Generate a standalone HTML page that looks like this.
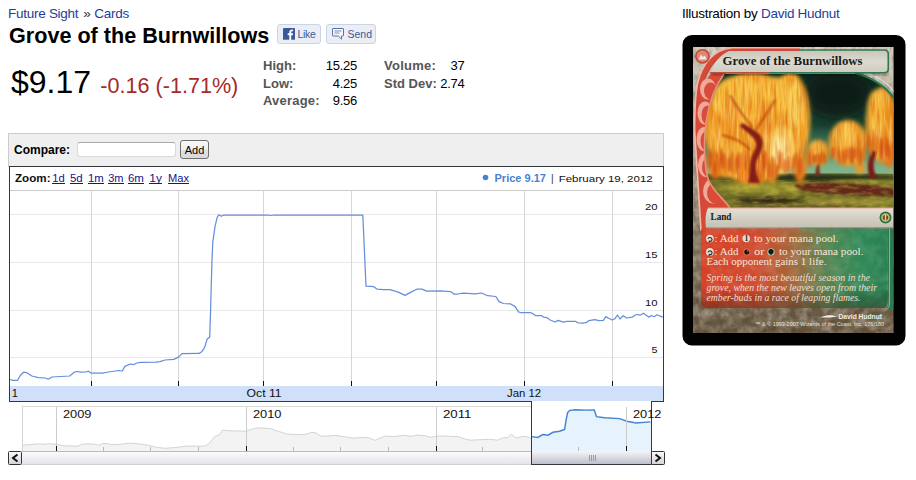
<!DOCTYPE html>
<html>
<head>
<meta charset="utf-8">
<title>Grove of the Burnwillows</title>
<style>
html,body{margin:0;padding:0;background:#fff;}
body{width:916px;height:480px;overflow:hidden;position:relative;font-family:"Liberation Sans",sans-serif;color:#000;font-size:12px;line-height:16px;}
.abs{position:absolute;white-space:nowrap;margin:0;padding:0;}
#crumb{left:8px;top:6px;font-size:13.5px;letter-spacing:-0.27px;line-height:16px;color:#243c98;}
#crumb span{color:#333;margin:0 0.3px 0 1.4px;}
#title{left:9px;top:23px;font-size:21.6px;line-height:26px;font-weight:bold;color:#000;}
#price{left:11px;top:64px;font-size:32px;line-height:36px;color:#000;}
#chg{left:100.3px;top:74px;font-size:21.6px;line-height:24px;color:#a52a2a;}
.fb{top:24px;height:18px;border:1px solid #cad4e7;background:#eceef5;border-radius:3px;box-sizing:content-box;}
.fb span{position:absolute;top:3px;font-size:10.5px;line-height:13px;color:#3b5998;}
.sl{font-size:13px;line-height:18px;font-weight:bold;color:#555;}
.sv{font-size:13px;line-height:18px;color:#000;text-align:right;letter-spacing:-0.25px;}
#illus{left:682px;top:6px;font-size:13.5px;letter-spacing:-0.27px;line-height:16px;color:#000;}
#illus span{color:#243c98;}
#cmp{left:8px;top:133px;width:654px;height:32px;border:1px solid #ccc;background:#efefef;box-sizing:content-box;}
#cmpl{left:14px;top:143px;font-size:12px;line-height:15px;font-weight:bold;}
#cmpi{left:77px;top:142px;width:97px;height:13px;border:1px solid #dadada;border-top-color:#a9a9a9;background:#fff;border-radius:3px;box-sizing:content-box;}
#cmpb{left:180px;top:140px;width:27px;height:17px;border:1px solid #707070;border-radius:3px;background:linear-gradient(#f8f8f8,#efefef 50%,#e2e2e2 51%,#d9d9d9);font-size:11px;line-height:19px;text-align:center;box-sizing:content-box;}


</style>
</head>
<body>
<div class="abs" id="crumb">Future Sight <span>»</span> Cards</div>
<div class="abs" id="title">Grove of the Burnwillows</div>
<div class="abs fb" style="left:277px;width:42px;">
<svg class="abs" style="left:5px;top:3px" width="12" height="12" viewBox="0 0 12 12"><rect width="12" height="12" rx="1" fill="#3b5998"/><rect y="11" width="12" height="1" fill="#6d84b4"/><path d="M8.2 12V7.2h1.6l.3-1.9H8.2V4.2c0-.6.2-.9.9-.9h1V1.6C9.9 1.6 9.400 1.500 8.800 1.500 7.400 1.500 6.300 2.400 6.300 4v1.300H4.700v1.900h1.600V12z" fill="#fff"/></svg>
<span style="left:19.5px;letter-spacing:-0.3px;">Like</span></div>
<div class="abs fb" style="left:326px;width:48px;">
<svg class="abs" style="left:5px;top:3px" width="13" height="13" viewBox="0 0 13 13"><path d="M1 .5h10c.3 0 .5.200 .5.500v6.500c0 .3-.2.500-.5.500h-1.500v3.200l-3.200-3.200h-5.300c-.3 0-.5-.2-.5-.5v-6.500c0-.3.200-.5.500-.5z" fill="#f5f6fa" stroke="#5b74a8" stroke-width="1"/><path d="M2.500 3h7M2.500 5h5" stroke="#7f93bd" stroke-width="1"/></svg>
<span style="left:20.5px;">Send</span></div>
<div class="abs" id="price">$9.17</div>
<div class="abs" id="chg">-0.16 (-1.71%)</div>
<div class="abs sl" style="left:263px;top:57px;">High:</div>
<div class="abs sl" style="left:263px;top:75px;">Low:</div>
<div class="abs sl" style="left:263px;top:92px;letter-spacing:0.2px;">Average:</div>
<div class="abs sv" style="left:300px;width:57px;top:57px;">15.25</div>
<div class="abs sv" style="left:300px;width:57px;top:75px;">4.25</div>
<div class="abs sv" style="left:300px;width:57px;top:92px;">9.56</div>
<div class="abs sl" style="left:384px;top:57px;letter-spacing:0.25px;">Volume:</div>
<div class="abs sl" style="left:384px;top:75px;">Std Dev:</div>
<div class="abs sv" style="left:420px;width:44.5px;top:57px;">37</div>
<div class="abs sv" style="left:420px;width:44.5px;top:75px;">2.74</div>
<div class="abs" id="illus">Illustration by <span>David Hudnut</span></div>

<div class="abs" id="cmp"></div>
<div class="abs" id="cmpl">Compare:</div>
<div class="abs" id="cmpi"></div>
<div class="abs" id="cmpb">Add</div>
<!--CHART_START-->
<svg class="abs" id="chart" style="left:0;top:160px" width="670" height="312" viewBox="0 160 670 312" font-family="Liberation Sans, sans-serif">
<defs><linearGradient id="gtrk" x1="0" y1="0" x2="0" y2="1"><stop offset="0" stop-color="#fdfdfd"/><stop offset="1" stop-color="#e4e4ea"/></linearGradient>
<linearGradient id="gthumb" x1="0" y1="0" x2="0" y2="1"><stop offset="0" stop-color="#f5f5f8"/><stop offset="1" stop-color="#bfbfcb"/></linearGradient>
<linearGradient id="gbtn" x1="0" y1="0" x2="0" y2="1"><stop offset="0" stop-color="#fbfbfc"/><stop offset="1" stop-color="#d2d2da"/></linearGradient></defs>
<rect x="9" y="166" width="655" height="236" fill="#fff"/>
<g shape-rendering="crispEdges">
<rect x="10" y="190" width="653" height="1" fill="#ccc"/>
<rect x="10" y="214" width="653" height="1" fill="#e9e9ec"/>
<rect x="10" y="262" width="653" height="1" fill="#e9e9ec"/>
<rect x="10" y="310" width="653" height="1" fill="#e9e9ec"/>
<rect x="10" y="357" width="653" height="1" fill="#e9e9ec"/>
<rect x="91" y="191" width="1" height="195" fill="#d6d6d9"/>
<rect x="178" y="191" width="1" height="195" fill="#d6d6d9"/>
<rect x="263" y="191" width="1" height="195" fill="#d6d6d9"/>
<rect x="351" y="191" width="1" height="195" fill="#d6d6d9"/>
<rect x="436" y="191" width="1" height="195" fill="#d6d6d9"/>
<rect x="524" y="191" width="1" height="195" fill="#d6d6d9"/>
<rect x="612" y="191" width="1" height="195" fill="#d6d6d9"/>
<rect x="10" y="386" width="653" height="15" fill="#cfe0f8"/>
<rect x="91" y="381" width="1" height="5" fill="#111"/>
<rect x="178" y="381" width="1" height="5" fill="#111"/>
<rect x="263" y="381" width="1" height="5" fill="#111"/>
<rect x="351" y="381" width="1" height="5" fill="#111"/>
<rect x="436" y="381" width="1" height="5" fill="#111"/>
<rect x="524" y="381" width="1" height="5" fill="#111"/>
<rect x="612" y="381" width="1" height="5" fill="#111"/>
</g>
<polyline fill="none" stroke="#658edb" stroke-width="1.25" stroke-linejoin="round" points="10,379.5 13,380.3 17.5,380.3 20.5,375.2 23.6,372.2 26.8,372.7 31.9,376 38.2,377.7 45.7,378 48.2,379.2 52,377 60.8,376.5 69.6,376 74.6,372 77,371.5 80.9,372.2 85.9,372 88.4,371.2 91,373 94.7,373 102.2,373.2 108.5,372 118.6,370.5 122.3,371 124.8,366.4 128.6,364.7 131,364 133.6,364.7 136.6,363 141,362.4 156,362.2 160,361.7 165,360 173.8,359.4 178.9,356.9 181.9,353.6 199,353.4 202,351.4 204.5,347.6 207.2,339 209.7,337.2 210.6,309.4 211.9,262.5 212.8,242.2 215,226.6 217.2,217.4 218.75,214.8 221.25,216.3 223.75,215 268,215 271,215.5 274,215 362.8,215 366,286.2 373.9,286.7 377.1,289.2 383.4,289.7 390.1,289.7 398.3,292.1 405,295.4 411,292.1 416.7,289.2 422.1,289.2 426.7,291.1 440.3,290.8 450.6,291.6 453.8,294 457.9,294 463.3,293.2 475.5,293.8 481.5,293 487.7,295.7 495.8,296.5 499,301.6 503.4,303.5 510.2,303.8 515.2,306.6 518.4,311.8 520.5,312.5 530.1,312.5 532.7,313.6 535.3,315.5 541.4,315.5 543.5,317.1 546.7,317.6 550.2,320 555.1,322 558,320.4 563.3,322.1 566.8,321.3 575.5,321.3 578.1,323 582.5,323.2 586,322.7 589,320.6 594.7,319.7 599.1,320.6 603.4,320.4 605.7,316.6 608.7,318.3 612.2,320 614.8,318.8 617.4,315 620,319 623.2,315.7 626.7,318 632.3,317.1 635.4,315 637.5,314.5 640.1,315.2 643.6,313.2 646.2,315.2 648.9,317.1 651.5,315.5 654.1,316.7 657.2,314.8 660.2,316.2 662.8,317.2"/>
<g shape-rendering="crispEdges">
<rect x="22" y="406" width="509" height="1" fill="#dadada"/>
<rect x="22" y="406" width="1" height="45" fill="#d4d4d4"/>
</g>
<rect x="532" y="402" width="119" height="49" fill="#fff"/>
<polygon fill="#f3f3f3" points="22.9,445.2 31.8,444.4 39.7,443.8 45.5,444.4 49.5,443.6 56.4,444.4 65.2,445.9 78,446.1 81.9,444.2 87.8,443.8 95.7,444.4 98.6,445.3 102.5,443.6 108.4,443.6 110.4,444.6 120.2,444.4 128.1,443.2 134,443.4 143.8,444.6 150.7,445.7 157.5,447.5 165.4,448.3 175.2,447.5 187,446.1 204.7,446.1 208.7,444 214.6,436.7 219.5,434.7 222.4,430.2 231.3,430.8 246,431.2 254.8,428.3 259.8,427.9 270.6,428.6 278.4,431.4 287.3,434.1 297.1,434.7 305.9,434.3 311.8,432.4 315.8,432.8 320.7,436.1 327.6,436.1 334.4,435.3 345.2,436.9 353.1,438.1 361,437.5 368.8,437.7 374.7,440.4 378.7,438.7 384.6,436.1 393.4,436.5 405.2,435.3 411.1,436.3 417,435.1 424.8,435.7 430.7,437.3 436.6,436.1 446.5,436.1 458.3,436.7 464.1,438.7 470,440.2 477.9,439.8 489.7,439.3 497.5,440.2 503.4,437.7 507.4,437.7 511.3,434.3 516.2,438.1 523.1,436.3 528,436.9 531.5,438.7 531.5,451 23,451"/>
<polyline fill="none" stroke="#d4d4d4" stroke-width="1" points="22.9,445.2 31.8,444.4 39.7,443.8 45.5,444.4 49.5,443.6 56.4,444.4 65.2,445.9 78,446.1 81.9,444.2 87.8,443.8 95.7,444.4 98.6,445.3 102.5,443.6 108.4,443.6 110.4,444.6 120.2,444.4 128.1,443.2 134,443.4 143.8,444.6 150.7,445.7 157.5,447.5 165.4,448.3 175.2,447.5 187,446.1 204.7,446.1 208.7,444 214.6,436.7 219.5,434.7 222.4,430.2 231.3,430.8 246,431.2 254.8,428.3 259.8,427.9 270.6,428.6 278.4,431.4 287.3,434.1 297.1,434.7 305.9,434.3 311.8,432.4 315.8,432.8 320.7,436.1 327.6,436.1 334.4,435.3 345.2,436.9 353.1,438.1 361,437.5 368.8,437.7 374.7,440.4 378.7,438.7 384.6,436.1 393.4,436.5 405.2,435.3 411.1,436.3 417,435.1 424.8,435.7 430.7,437.3 436.6,436.1 446.5,436.1 458.3,436.7 464.1,438.7 470,440.2 477.9,439.8 489.7,439.3 497.5,440.2 503.4,437.7 507.4,437.7 511.3,434.3 516.2,438.1 523.1,436.3 528,436.9 531.5,438.7"/>
<polygon fill="#e6f2fc" points="532,436.6 537.7,437.4 542.8,434.5 547.9,435.2 553,432.3 559.5,431.2 564.6,429.4 566.1,419.9 567.6,412.6 569.8,410.4 575.6,409.7 586,410.1 594.3,410 596.5,416.7 604.7,417.8 619.5,418.6 627,421.2 636.2,423 650.5,421.9 651,421.9 651,451 532,451"/>
<polyline fill="none" stroke="#4384d4" stroke-width="1.45" points="532,436.6 537.7,437.4 542.8,434.5 547.9,435.2 553,432.3 559.5,431.2 564.6,429.4 566.1,419.9 567.6,412.6 569.8,410.4 575.6,409.7 586,410.1 594.3,410 596.5,416.7 604.7,417.8 619.5,418.6 627,421.2 636.2,423 650.5,421.9"/>
<g shape-rendering="crispEdges">
<rect x="56" y="407" width="1" height="44" fill="#ccc"/>
<rect x="56" y="446" width="1" height="5" fill="#111"/>
<rect x="246" y="407" width="1" height="44" fill="#ccc"/>
<rect x="246" y="446" width="1" height="5" fill="#111"/>
<rect x="436" y="407" width="1" height="44" fill="#ccc"/>
<rect x="436" y="446" width="1" height="5" fill="#111"/>
<rect x="626" y="407" width="1" height="44" fill="#ccc"/>
<rect x="626" y="446" width="1" height="5" fill="#111"/>
<rect x="103" y="447" width="1" height="4" fill="#bbb"/>
<rect x="150" y="447" width="1" height="4" fill="#bbb"/>
<rect x="198" y="447" width="1" height="4" fill="#bbb"/>
<rect x="293" y="447" width="1" height="4" fill="#bbb"/>
<rect x="340" y="447" width="1" height="4" fill="#bbb"/>
<rect x="388" y="447" width="1" height="4" fill="#bbb"/>
<rect x="482" y="447" width="1" height="4" fill="#bbb"/>
<rect x="578" y="447" width="1" height="4" fill="#bbb"/>
<rect x="22" y="451" width="630" height="13" fill="url(#gtrk)"/>
<rect x="22" y="451" width="509" height="1" fill="#bbb"/>
<rect x="22" y="464" width="642" height="1" fill="#d0d0d0"/>
<rect x="532" y="451" width="119" height="13" fill="url(#gthumb)"/>
<rect x="589" y="455" width="1" height="6" fill="#9a9aa2"/>
<rect x="591" y="455" width="1" height="6" fill="#9a9aa2"/>
<rect x="593" y="455" width="1" height="6" fill="#9a9aa2"/>
<rect x="595" y="455" width="1" height="6" fill="#9a9aa2"/>
<rect x="8.5" y="451.500" width="13" height="13" rx="1" fill="url(#gbtn)" stroke="#333" stroke-width="1" shape-rendering="auto"/>
<rect x="651.500" y="451.500" width="13" height="13" rx="1" fill="url(#gbtn)" stroke="#333" stroke-width="1" shape-rendering="auto"/>
</g>
<path d="M17.500 454.500 L13 458 L17.500 461.500" fill="none" stroke="#111" stroke-width="2"/>
<path d="M655.500 454.500 L660 458 L655.500 461.500" fill="none" stroke="#111" stroke-width="2"/>
<g shape-rendering="crispEdges" fill="#33383f">
<rect x="9" y="166" width="655" height="1"/>
<rect x="9" y="166" width="1" height="236"/>
<rect x="663" y="166" width="1" height="236"/>
<rect x="9" y="401" width="523" height="1"/>
<rect x="651" y="401" width="13" height="1"/>
<rect x="531" y="401" width="1" height="64"/>
<rect x="651" y="401" width="1" height="64"/>
<rect x="531" y="464" width="121" height="1"/>
</g>
<text x="15" y="182" font-size="10" font-weight="bold" fill="#111" text-anchor="start" textLength="35.5" lengthAdjust="spacingAndGlyphs">Zoom:</text>
<text x="52.2" y="182" font-size="10" font-weight="normal" fill="#18128e" text-anchor="start" textLength="12.4" lengthAdjust="spacingAndGlyphs">1d</text>
<rect x="52" y="183" width="13" height="1" fill="#18128e" shape-rendering="crispEdges"/>
<text x="70" y="182" font-size="10" font-weight="normal" fill="#18128e" text-anchor="start" textLength="12.7" lengthAdjust="spacingAndGlyphs">5d</text>
<rect x="70" y="183" width="13" height="1" fill="#18128e" shape-rendering="crispEdges"/>
<text x="88" y="182" font-size="10" font-weight="normal" fill="#18128e" text-anchor="start" textLength="15.8" lengthAdjust="spacingAndGlyphs">1m</text>
<rect x="88" y="183" width="16" height="1" fill="#18128e" shape-rendering="crispEdges"/>
<text x="108.2" y="182" font-size="10" font-weight="normal" fill="#18128e" text-anchor="start" textLength="15.3" lengthAdjust="spacingAndGlyphs">3m</text>
<rect x="108" y="183" width="16" height="1" fill="#18128e" shape-rendering="crispEdges"/>
<text x="127.9" y="182" font-size="10" font-weight="normal" fill="#18128e" text-anchor="start" textLength="16" lengthAdjust="spacingAndGlyphs">6m</text>
<rect x="128" y="183" width="16" height="1" fill="#18128e" shape-rendering="crispEdges"/>
<text x="149.3" y="182" font-size="10" font-weight="normal" fill="#18128e" text-anchor="start" textLength="12.6" lengthAdjust="spacingAndGlyphs">1y</text>
<rect x="149" y="183" width="13" height="1" fill="#18128e" shape-rendering="crispEdges"/>
<text x="168.1" y="182" font-size="10" font-weight="normal" fill="#18128e" text-anchor="start" textLength="21" lengthAdjust="spacingAndGlyphs">Max</text>
<rect x="168" y="183" width="21" height="1" fill="#18128e" shape-rendering="crispEdges"/>
<circle cx="485.500" cy="177.500" r="2.8" fill="#4a80d8"/>
<text x="494.5" y="182" font-size="11" font-weight="bold" fill="#4a80d8" text-anchor="start" textLength="51.5" lengthAdjust="spacingAndGlyphs">Price 9.17</text>
<text x="551" y="182" font-size="10" font-weight="normal" fill="#333" text-anchor="start">|</text>
<text x="558.7" y="181.6" font-size="9.5" font-weight="normal" fill="#111" text-anchor="start" textLength="94" lengthAdjust="spacingAndGlyphs">February 19, 2012</text>
<text x="657.6" y="209.5" font-size="9.4" font-weight="normal" fill="#111" text-anchor="end" textLength="12.6" lengthAdjust="spacingAndGlyphs">20</text>
<text x="657.6" y="257.5" font-size="9.4" font-weight="normal" fill="#111" text-anchor="end" textLength="12.6" lengthAdjust="spacingAndGlyphs">15</text>
<text x="657.6" y="305.5" font-size="9.4" font-weight="normal" fill="#111" text-anchor="end" textLength="12.6" lengthAdjust="spacingAndGlyphs">10</text>
<text x="657.6" y="353" font-size="9.4" font-weight="normal" fill="#111" text-anchor="end" textLength="6" lengthAdjust="spacingAndGlyphs">5</text>
<text x="11.8" y="397" font-size="10" font-weight="normal" fill="#111" text-anchor="start" textLength="6.2" lengthAdjust="spacingAndGlyphs">1</text>
<text x="246.6" y="397" font-size="10" font-weight="normal" fill="#111" text-anchor="start" textLength="35" lengthAdjust="spacingAndGlyphs">Oct 11</text>
<text x="507" y="397" font-size="10" font-weight="normal" fill="#111" text-anchor="start" textLength="34" lengthAdjust="spacingAndGlyphs">Jan 12</text>
<text x="63" y="418" font-size="10" font-weight="normal" fill="#111" text-anchor="start" textLength="28.5" lengthAdjust="spacingAndGlyphs">2009</text>
<text x="253" y="418" font-size="10" font-weight="normal" fill="#111" text-anchor="start" textLength="28.5" lengthAdjust="spacingAndGlyphs">2010</text>
<text x="443" y="418" font-size="10" font-weight="normal" fill="#111" text-anchor="start" textLength="28.5" lengthAdjust="spacingAndGlyphs">2011</text>
<text x="633" y="418" font-size="10" font-weight="normal" fill="#111" text-anchor="start" textLength="28.5" lengthAdjust="spacingAndGlyphs">2012</text>
</svg>
<!--CHART_END-->
<!--CARD_START-->
<svg class="abs" id="card" style="left:676px;top:28px" width="240" height="324" viewBox="676 28 240 324" font-family="Liberation Serif, serif">
<defs>
<filter id="b1" x="-20%" y="-20%" width="140%" height="140%"><feGaussianBlur stdDeviation="1"/></filter>
<filter id="b2" x="-20%" y="-20%" width="140%" height="140%"><feGaussianBlur stdDeviation="2.2"/></filter>
<filter id="b4" x="-30%" y="-30%" width="160%" height="160%"><feGaussianBlur stdDeviation="4"/></filter>
<filter id="b8" x="-40%" y="-40%" width="180%" height="180%"><feGaussianBlur stdDeviation="8"/></filter>
<filter id="stone" x="0" y="0" width="100%" height="100%"><feTurbulence type="fractalNoise" baseFrequency="0.09 0.11" numOctaves="3" seed="7" result="n"/><feColorMatrix in="n" type="matrix" values="0 0 0 0 0  0 0 0 0 0  0 0 0 0 0  1.6 0 0 0 -0.55" result="a"/><feComposite operator="in" in="SourceGraphic" in2="a"/></filter>
<filter id="strand" x="0" y="0" width="100%" height="100%"><feTurbulence type="fractalNoise" baseFrequency="0.35 0.035" numOctaves="2" seed="3" result="n"/><feColorMatrix in="n" type="matrix" values="0 0 0 0 0  0 0 0 0 0  0 0 0 0 0  2.4 0 0 0 -0.95" result="a"/><feComposite operator="in" in="SourceGraphic" in2="a"/></filter>
<filter id="strand2" x="0" y="0" width="100%" height="100%"><feTurbulence type="fractalNoise" baseFrequency="0.4 0.04" numOctaves="2" seed="21" result="n"/><feColorMatrix in="n" type="matrix" values="0 0 0 0 0  0 0 0 0 0  0 0 0 0 0  2.4 0 0 0 -1.0" result="a"/><feComposite operator="in" in="SourceGraphic" in2="a"/></filter>
<filter id="grass" x="0" y="0" width="100%" height="100%"><feTurbulence type="fractalNoise" baseFrequency="0.1 0.28" numOctaves="2" seed="5" result="n"/><feColorMatrix in="n" type="matrix" values="0 0 0 0 0  0 0 0 0 0  0 0 0 0 0  2.2 0 0 0 -0.9" result="a"/><feComposite operator="in" in="SourceGraphic" in2="a"/></filter>
<filter id="grain" x="0" y="0" width="100%" height="100%"><feTurbulence type="fractalNoise" baseFrequency="0.25 0.12" numOctaves="2" seed="11" result="n"/><feColorMatrix in="n" type="matrix" values="0 0 0 0 0  0 0 0 0 0  0 0 0 0 0  1.8 0 0 0 -0.7" result="a"/><feComposite operator="in" in="SourceGraphic" in2="a"/></filter>
<linearGradient id="gtitle" x1="0" y1="0" x2="0" y2="1"><stop offset="0" stop-color="#c9c6ba"/><stop offset="0.5" stop-color="#dddad0"/><stop offset="1" stop-color="#cfccc1"/></linearGradient>
<linearGradient id="gtype" x1="0" y1="0" x2="0" y2="1"><stop offset="0" stop-color="#e6e1d6"/><stop offset="0.55" stop-color="#d2cdc0"/><stop offset="1" stop-color="#c4c0b2"/></linearGradient>
<linearGradient id="gtext" x1="0" y1="0" x2="1" y2="0"><stop offset="0" stop-color="#d84026"/><stop offset="0.3" stop-color="#cf4a2d"/><stop offset="0.5" stop-color="#a0683c"/><stop offset="0.68" stop-color="#548652"/><stop offset="0.85" stop-color="#308957"/><stop offset="1" stop-color="#2a8052"/></linearGradient>
<linearGradient id="gtext2" x1="0" y1="0" x2="0" y2="1"><stop offset="0" stop-color="#000" stop-opacity="0"/><stop offset="0.75" stop-color="#000" stop-opacity="0"/><stop offset="1" stop-color="#3a2a18" stop-opacity="0.45"/></linearGradient>
<linearGradient id="gstone" x1="0" y1="0" x2="0" y2="1"><stop offset="0" stop-color="#d2cbbb"/><stop offset="0.3" stop-color="#b5aa96"/><stop offset="0.6" stop-color="#8a7b66"/><stop offset="1" stop-color="#66563f"/></linearGradient>
<linearGradient id="gsky" x1="0" y1="0" x2="0" y2="1"><stop offset="0" stop-color="#0d2c22"/><stop offset="0.38" stop-color="#1b4634"/><stop offset="0.58" stop-color="#4a8668"/><stop offset="0.72" stop-color="#86bb96"/><stop offset="0.8" stop-color="#8abf98"/><stop offset="1" stop-color="#6a7a30"/></linearGradient>
<linearGradient id="gfrm" gradientUnits="userSpaceOnUse" x1="693" y1="0" x2="712" y2="0"><stop offset="0" stop-color="#e58a78"/><stop offset="0.5" stop-color="#d9432f"/><stop offset="1" stop-color="#c53a2a"/></linearGradient>
<clipPath id="cinner"><rect x="693" y="47" width="200.500" height="286"/></clipPath>
<clipPath id="cart"><path d="M724 74 L861 74 C873 78 885 86 893.500 97 L893.500 208 L730 208 C722 196 709 190 706 170 C702 140 705 100 724 74 Z"/></clipPath>
</defs>
<rect x="682.500" y="35" width="223" height="310.500" rx="9.500" ry="9.500" fill="#020202"/>
<g clip-path="url(#cinner)">
<rect x="693" y="47" width="201" height="286" fill="url(#gstone)"/>
<rect x="693" y="47" width="201" height="286" fill="#efe9dc" filter="url(#stone)" opacity="0.55"/>
<rect x="693" y="47" width="201" height="286" fill="#3b2e22" filter="url(#grain)" opacity="0.35"/>
<path d="M800 50 L733 50 C716 52 705 66 700.500 84 C698 96 697.500 112 697.500 130 L704 231" fill="none" stroke="#d3493a" stroke-width="6"/>
<path d="M800 47.600 L732 47.600 C713 49.500 702 64 697.600 83 C695 96 694.600 112 694.600 130 L701 231" fill="none" stroke="#f2b7a9" stroke-width="1.700"/>
<path d="M800 51.500 L734 51.500 C718 54 708 67 703.500 85 C701 97 700.500 112 700.500 130 L707 231" fill="none" stroke="#b93a2c" stroke-width="1" opacity="0.7"/>
<path d="M726 73 C705 100 702 140 706 170 C709 190 722 196 730 208 L706 231 L698 130 L700 90 L711 73 Z" fill="#d84a38"/>
<ellipse cx="708" cy="89" rx="8" ry="10.5" fill="#f0a898"/>
<ellipse cx="710.5" cy="91" rx="6.5" ry="8.5" fill="#d84c39"/>
<ellipse cx="705" cy="113" rx="7.5" ry="11.5" fill="#f0a898"/>
<ellipse cx="707.5" cy="115" rx="6" ry="9.5" fill="#d84c39"/>
<ellipse cx="704" cy="139" rx="7.5" ry="12" fill="#f0a898"/>
<ellipse cx="706.5" cy="141" rx="6" ry="10" fill="#d84c39"/>
<ellipse cx="706" cy="165" rx="8" ry="12" fill="#f0a898"/>
<ellipse cx="708.5" cy="167" rx="6.5" ry="10" fill="#d84c39"/>
<ellipse cx="713" cy="191" rx="10" ry="12.5" fill="#f0a898"/>
<ellipse cx="715.5" cy="193" rx="8.5" ry="10.5" fill="#d84c39"/>
<circle cx="702.400" cy="56.300" r="7.400" fill="#c24a3a"/><circle cx="702.400" cy="56.300" r="5.700" fill="#dd8877"/><path d="M698.500 59.500 L701 54.500 L703 57 L704.500 55.500 L707 59.500 Z" fill="#f7e6df"/>
</g>
<g clip-path="url(#cart)">
<rect x="700" y="74" width="194" height="134" fill="url(#gsky)"/>
<ellipse cx="838" cy="94" rx="36" ry="25" fill="#071a14" filter="url(#b8)"/>
<ellipse cx="845" cy="172" rx="50" ry="9" fill="#7fb08a" filter="url(#b4)" opacity="0.8"/>
<rect x="700" y="174" width="194" height="34" fill="#78782a"/>
<ellipse cx="800" cy="177.500" rx="100" ry="3.200" fill="#1c2a1a" filter="url(#b2)"/>
<ellipse cx="765" cy="188" rx="46" ry="5" fill="#aaa234" filter="url(#b2)"/>
<ellipse cx="862" cy="181.500" rx="32" ry="2.200" fill="#8f8a30" filter="url(#b1)"/>
<path d="M796 184 C820 181 870 184 894 188 L894 196 C870 197 835 195 805 191 C798 190 792 186 796 184 Z" fill="#6a2c1c" filter="url(#b1)"/>
<ellipse cx="852" cy="201.500" rx="46" ry="3.600" fill="#9c8e36" filter="url(#b2)"/>
<ellipse cx="768" cy="200.500" rx="36" ry="3" fill="#2a1c12" filter="url(#b2)"/>
<ellipse cx="800" cy="207" rx="70" ry="2" fill="#6a5a28" filter="url(#b1)"/>
<rect x="700" y="180" width="194" height="28" fill="#d4c64e" filter="url(#grass)" opacity="0.45"/>
<rect x="700" y="176" width="194" height="32" fill="#2a2412" filter="url(#stone)" opacity="0.3"/>
<g filter="url(#b2)">
<ellipse cx="882" cy="125" rx="16" ry="38" fill="#ec9624"/>
<ellipse cx="876" cy="112" rx="9" ry="22" fill="#f4b638"/>
<ellipse cx="889" cy="150" rx="7" ry="18" fill="#e27a1c"/>
<ellipse cx="848" cy="143" rx="19" ry="23" fill="#ec9a26"/>
<ellipse cx="845" cy="135" rx="10" ry="13" fill="#f6ba3c"/>
<ellipse cx="858" cy="152" rx="8" ry="13" fill="#e58a22"/>
<ellipse cx="818" cy="153" rx="11" ry="13" fill="#e8901f"/>
<ellipse cx="816" cy="148" rx="6" ry="7" fill="#f5b53a"/>
<ellipse cx="860" cy="168" rx="5" ry="6" fill="#e59a2a"/>
</g>
<path d="M873 150 C868 158 866 168 870 178 L877 178 C872 168 873 160 877 152 Z" fill="#7a1d18" filter="url(#b1)"/>
<path d="M817 164 L815 176 L820 176 L819 164 Z" fill="#7a2a18" filter="url(#b1)"/>
<g filter="url(#b2)">
<ellipse cx="752" cy="128" rx="48" ry="56" fill="#ee9a22"/>
<ellipse cx="790" cy="120" rx="20" ry="48" fill="#f0a226"/>
<ellipse cx="738" cy="100" rx="26" ry="24" fill="#f8bf3c"/>
<ellipse cx="775" cy="95" rx="22" ry="18" fill="#f6b836"/>
<ellipse cx="727" cy="150" rx="16" ry="28" fill="#f3ac30"/>
<ellipse cx="782" cy="150" rx="14" ry="24" fill="#f9cb58"/>
<ellipse cx="780" cy="150" rx="8" ry="14" fill="#fde9a0"/>
<ellipse cx="758" cy="165" rx="10" ry="16" fill="#e06a18"/>
<ellipse cx="800" cy="165" rx="6" ry="18" fill="#e8861e"/>
<ellipse cx="716" cy="165" rx="8" ry="14" fill="#e47a1c"/>
<ellipse cx="742" cy="168" rx="7" ry="15" fill="#ee8a20"/>
<ellipse cx="772" cy="170" rx="6" ry="13" fill="#f09a28"/>
<ellipse cx="730" cy="120" rx="9" ry="22" fill="#ee8f22" opacity="0.8"/>
<ellipse cx="765" cy="118" rx="7" ry="20" fill="#ea8420" opacity="0.7"/>
<ellipse cx="795" cy="105" rx="8" ry="22" fill="#f9cf52" opacity="0.8"/>
</g>
<mask id="mtree" maskUnits="userSpaceOnUse" x="690" y="70" width="210" height="140"><g filter="url(#b2)" fill="#fff"><ellipse cx="752" cy="128" rx="46" ry="54"/><ellipse cx="790" cy="120" rx="19" ry="46"/><ellipse cx="882" cy="125" rx="15" ry="36"/><ellipse cx="848" cy="143" rx="18" ry="21"/><ellipse cx="818" cy="153" rx="10" ry="12"/></g></mask>
<g mask="url(#mtree)">
<rect x="696" y="70" width="200" height="125" fill="#d8600f" filter="url(#strand)" opacity="0.6"/>
<rect x="696" y="70" width="200" height="125" fill="#ffe98f" filter="url(#strand2)" opacity="0.55"/>
</g>
<g filter="url(#b1)" opacity="0.8"><ellipse cx="707.5" cy="159.4" rx="1.300" ry="9.4" fill="#e06a18"/><ellipse cx="710.3" cy="158.3" rx="1.300" ry="10.3" fill="#cf4a16"/><ellipse cx="714.8" cy="168.7" rx="1.300" ry="8.3" fill="#cf4a16"/><ellipse cx="716.9" cy="160.4" rx="1.300" ry="7.6" fill="#e06a18"/><ellipse cx="721.3" cy="158.4" rx="1.300" ry="10.8" fill="#cf4a16"/><ellipse cx="724.1" cy="160.7" rx="1.300" ry="8.9" fill="#cf4a16"/><ellipse cx="725.8" cy="166.5" rx="1.300" ry="11.0" fill="#e06a18"/><ellipse cx="729.1" cy="164.6" rx="1.300" ry="7.5" fill="#cf4a16"/><ellipse cx="731.8" cy="162.1" rx="1.300" ry="11.2" fill="#cf4a16"/><ellipse cx="736.6" cy="165.1" rx="1.300" ry="9.5" fill="#cf4a16"/><ellipse cx="738.9" cy="160.3" rx="1.300" ry="8.8" fill="#d5521a"/><ellipse cx="741.3" cy="164.5" rx="1.300" ry="13.0" fill="#e8801e"/><ellipse cx="745.6" cy="160.0" rx="1.300" ry="11.0" fill="#d5521a"/><ellipse cx="764.3" cy="162.5" rx="1.300" ry="10.4" fill="#cf4a16"/><ellipse cx="766.1" cy="158.9" rx="1.300" ry="8.4" fill="#e06a18"/><ellipse cx="769.2" cy="171.1" rx="1.300" ry="8.7" fill="#d5521a"/><ellipse cx="772.2" cy="167.8" rx="1.300" ry="12.4" fill="#cf4a16"/><ellipse cx="776.7" cy="171.4" rx="1.300" ry="7.1" fill="#cf4a16"/><ellipse cx="778.9" cy="160.1" rx="1.300" ry="10.9" fill="#d5521a"/><ellipse cx="782.0" cy="160.7" rx="1.300" ry="9.7" fill="#e06a18"/><ellipse cx="785.0" cy="166.4" rx="1.300" ry="8.0" fill="#d5521a"/><ellipse cx="788.3" cy="164.4" rx="1.300" ry="9.2" fill="#cf4a16"/><ellipse cx="792.7" cy="166.0" rx="1.300" ry="9.6" fill="#e06a18"/><ellipse cx="794.6" cy="160.9" rx="1.300" ry="7.4" fill="#d5521a"/><ellipse cx="798.4" cy="166.3" rx="1.300" ry="12.8" fill="#d5521a"/><ellipse cx="801.1" cy="166.2" rx="1.300" ry="8.9" fill="#d5521a"/><ellipse cx="803.3" cy="165.4" rx="1.300" ry="11.6" fill="#e8801e"/><ellipse cx="807.5" cy="160.8" rx="1.300" ry="8.2" fill="#e8801e"/><ellipse cx="810.1" cy="158.5" rx="1.300" ry="9.5" fill="#e06a18"/><ellipse cx="832.3" cy="153.4" rx="1.200" ry="5.9" fill="#d5521a"/><ellipse cx="834.0" cy="152.0" rx="1.200" ry="6.0" fill="#d5521a"/><ellipse cx="838.3" cy="153.3" rx="1.200" ry="6.0" fill="#e06a18"/><ellipse cx="839.8" cy="157.4" rx="1.200" ry="7.3" fill="#cf4a16"/><ellipse cx="843.4" cy="157.2" rx="1.200" ry="7.6" fill="#cf4a16"/><ellipse cx="847.0" cy="154.0" rx="1.200" ry="5.4" fill="#d5521a"/><ellipse cx="850.3" cy="154.6" rx="1.200" ry="8.8" fill="#d5521a"/><ellipse cx="852.0" cy="155.3" rx="1.200" ry="8.2" fill="#cf4a16"/><ellipse cx="854.8" cy="153.4" rx="1.200" ry="5.9" fill="#cf4a16"/><ellipse cx="858.7" cy="152.7" rx="1.200" ry="6.6" fill="#e06a18"/><ellipse cx="860.1" cy="157.8" rx="1.200" ry="8.8" fill="#cf4a16"/><ellipse cx="863.3" cy="153.2" rx="1.200" ry="7.5" fill="#e06a18"/><ellipse cx="868.3" cy="141.0" rx="1.200" ry="7.8" fill="#cf4a16"/><ellipse cx="870.9" cy="147.6" rx="1.200" ry="9.0" fill="#e06a18"/><ellipse cx="873.4" cy="140.1" rx="1.200" ry="11.6" fill="#d5521a"/><ellipse cx="877.2" cy="144.1" rx="1.200" ry="9.0" fill="#e06a18"/><ellipse cx="880.8" cy="148.8" rx="1.200" ry="11.4" fill="#d5521a"/><ellipse cx="882.3" cy="149.7" rx="1.200" ry="11.1" fill="#cf4a16"/><ellipse cx="886.5" cy="147.5" rx="1.200" ry="9.6" fill="#d5521a"/><ellipse cx="888.2" cy="151.1" rx="1.200" ry="7.6" fill="#cf4a16"/><ellipse cx="892.7" cy="149.7" rx="1.200" ry="7.7" fill="#e06a18"/><ellipse cx="809.2" cy="159.3" rx="1.200" ry="6.7" fill="#d55a18"/><ellipse cx="813.7" cy="159.0" rx="1.200" ry="4.3" fill="#d55a18"/><ellipse cx="815.8" cy="158.7" rx="1.200" ry="4.9" fill="#c84a14"/><ellipse cx="819.5" cy="159.1" rx="1.200" ry="5.2" fill="#c84a14"/><ellipse cx="821.2" cy="157.7" rx="1.200" ry="6.7" fill="#d55a18"/><ellipse cx="824.8" cy="158.3" rx="1.200" ry="5.3" fill="#c84a14"/></g>
<g fill="none" stroke="#b8420f" stroke-width="2" filter="url(#b1)" opacity="0.85">
<path d="M730 95 C738 110 745 118 753 128"/><path d="M775 100 C768 112 762 120 756 130"/><path d="M722 135 C732 138 742 140 750 150"/>
</g>
<path d="M742 123 C752 128 763 134 763 143 C763 151 757 156 756 164 C755 172 758 178 760 183 L748 183 C750 176 749 168 751 160 C753 152 757 148 756 143 C754 136 746 132 740 126 Z" fill="#861c14" filter="url(#b1)"/>
</g>
<g clip-path="url(#cinner)">
<path d="M855 73 C871 77 885 86 894 98" fill="none" stroke="#2e7a50" stroke-width="2.200"/>
<path d="M861 71.500 C876 75 888 83 895 93" fill="none" stroke="#dfe9df" stroke-width="1.200"/>
<path d="M724 74 C705 100 702 140 706 170 C709 190 722 196 730 208" fill="none" stroke="#e7907e" stroke-width="1.600"/>
</g>
<g clip-path="url(#cinner)">
<path d="M729 51 L884 51 C886.500 51 887.500 52 887.500 54 L887.500 69 C887.500 71 886.500 72 884 72 L711 72 C712.500 64 720 55 729 51 Z" fill="url(#gtitle)"/>
<path d="M800 50 L884 50 C887 50 888.300 51.500 888.300 54 L888.300 69 C888.300 71.500 887 72.800 884 72.800 L770 72.800" fill="none" stroke="#2f7a52" stroke-width="1.600"/>
<path d="M770 72.800 L710 72.800" fill="none" stroke="#b9503c" stroke-width="1.600"/>
<rect x="712" y="73.500" width="176" height="2" fill="#000" opacity="0.35" filter="url(#b1)"/>
<text x="722.500" y="64.800" font-size="13" font-weight="bold" fill="#1a1a18" textLength="140" lengthAdjust="spacingAndGlyphs">Grove of the Burnwillows</text>
<path d="M708 208 L893.500 208 L893.500 228 L706 228 C705 220 705.500 213 708 208 Z" fill="url(#gtype)"/>
<path d="M708 208 L893.500 208" stroke="#e9a090" stroke-width="1.200" fill="none"/>
<path d="M706 228 L800 228" stroke="#d8614c" stroke-width="1.200" fill="none"/><path d="M800 228 L893.500 228" stroke="#3a8a5c" stroke-width="1.200" fill="none"/>
<text x="710.500" y="220" font-size="10.500" font-weight="bold" fill="#1a1a18" textLength="21" lengthAdjust="spacingAndGlyphs">Land</text>
<circle cx="885.500" cy="217.500" r="6" fill="#2d6e48"/><circle cx="885.500" cy="217.500" r="4.300" fill="#c9b56a"/><circle cx="885.500" cy="217.500" r="2.600" fill="#5a4a20"/><rect x="884.800" y="214.500" width="1.400" height="6" fill="#e8d890"/>
<path d="M701 229 L887.500 229 L887.500 303 C887.500 306 886 308 883 308 L708 308 C703 308 701 305 701 301 Z" fill="url(#gtext)"/>
<path d="M701 229 L887.500 229 L887.500 303 C887.500 306 886 308 883 308 L708 308 C703 308 701 305 701 301 Z" fill="#fff" filter="url(#stone)" opacity="0.16"/>
<path d="M701 229 L887.500 229 L887.500 303 C887.500 306 886 308 883 308 L708 308 C703 308 701 305 701 301 Z" fill="url(#gtext2)"/>
<path d="M887.500 229 L893.500 229 L893.500 310 L884 310 C887 309 888.500 307 888.500 304 Z" fill="#2c7a50"/>
<path d="M889.500 229 L889.500 304 C889.500 307 888 309 885 310" fill="none" stroke="#8fc7a2" stroke-width="1" opacity="0.8"/>
<g fill="#f6e6da" font-size="10.200">
<circle cx="709.9" cy="238.6" r="3.900" fill="#e9dcd2"/><path d="M708.1 238.9 a2 2 0 1 1 2.500 2.500 l-1.200 -0.500 l-0.300 1.800" fill="none" stroke="#2a2a2a" stroke-width="1.100"/>
<circle cx="709.9" cy="252" r="3.900" fill="#e9dcd2"/><path d="M708.1 252.3 a2 2 0 1 1 2.500 2.500 l-1.200 -0.500 l-0.300 1.800" fill="none" stroke="#2a2a2a" stroke-width="1.100"/>
<text x="714.500" y="241.900" textLength="24" lengthAdjust="spacingAndGlyphs">: Add</text>
<circle cx="746.200" cy="238.500" r="3.700" fill="#e4ddd6"/><text x="744.400" y="241.300" font-size="7.600" font-weight="bold" fill="#222">1</text>
<text x="754" y="241.900" textLength="84.500" lengthAdjust="spacingAndGlyphs">to your mana pool.</text>
<text x="714.500" y="255" textLength="24" lengthAdjust="spacingAndGlyphs">: Add</text>
<circle cx="746.800" cy="251.900" r="3.700" fill="#e2674a"/><circle cx="746.800" cy="252" r="2.500" fill="#22100c"/><circle cx="747.800" cy="250.800" r="0.900" fill="#e2674a"/>
<text x="754" y="255" textLength="10.500" lengthAdjust="spacingAndGlyphs">or</text>
<circle cx="771" cy="251.900" r="3.700" fill="#a9bfa6"/><circle cx="771" cy="251.500" r="2.600" fill="#0e1a14"/><rect x="770.400" y="252" width="1.200" height="3" fill="#0e1a14"/>
<text x="779" y="255" textLength="84.500" lengthAdjust="spacingAndGlyphs">to your mana pool.</text>
<text x="706.500" y="264.800" textLength="120" lengthAdjust="spacingAndGlyphs">Each opponent gains 1 life.</text>
<g font-style="italic" font-size="9.800" fill="#f5dccf">
<text x="706.500" y="280.600" textLength="163.500" lengthAdjust="spacingAndGlyphs">Spring is the most beautiful season in the</text>
<text x="706.500" y="290.700" textLength="170.500" lengthAdjust="spacingAndGlyphs">grove, when the new leaves open from their</text>
<text x="706.500" y="300.500" textLength="154" lengthAdjust="spacingAndGlyphs">ember-buds in a race of leaping flames.</text>
</g></g>
<path d="M820 317.500 C828 314 834 315.500 837 316.500 L830 317.500 Z" fill="#f4efe6"/>
<text x="838.500" y="318.700" font-size="7.600" font-weight="bold" fill="#f4efe6" font-family="Liberation Sans, sans-serif" textLength="43.500" lengthAdjust="spacingAndGlyphs">David Hudnut</text>
<text x="755" y="325.800" font-size="5.800" fill="#e9e3d8" font-family="Liberation Sans, sans-serif" textLength="129" lengthAdjust="spacingAndGlyphs">™ &amp; © 1993-2007 Wizards of the Coast, Inc. 176/180</text>
</g>
</svg>
<!--CARD_END-->
</body>
</html>
